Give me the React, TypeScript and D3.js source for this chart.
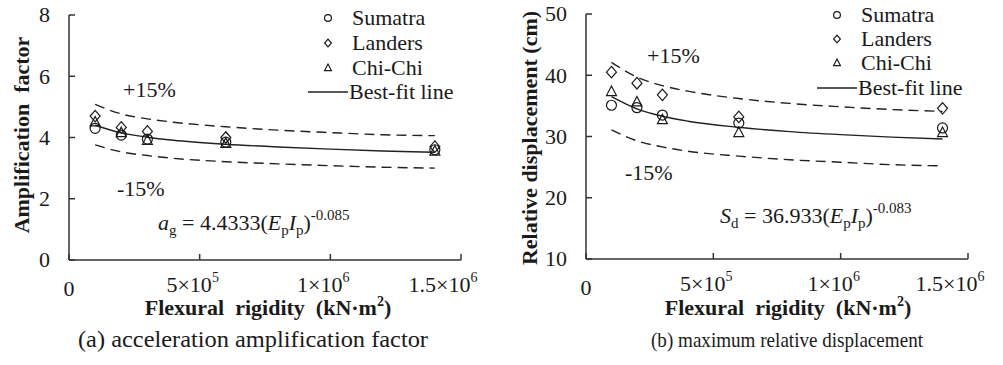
import React from "react";
import * as d3 from "d3";

// ---- data ----
const rigidity = [1e5, 2e5, 3e5, 6e5, 1.4e6];
const ampSumatra = [4.3, 4.08, 3.95, 3.85, 3.6];
const ampLanders = [4.7, 4.33, 4.2, 4.0, 3.7];
const ampChiChi = [4.5, 4.15, 3.9, 3.8, 3.55];

const dispSumatra = [35.1, 34.7, 33.5, 32.2, 31.4];
const dispLanders = [40.5, 38.7, 36.8, 33.2, 34.6];
const dispChiChi = [37.3, 35.6, 32.7, 30.6, 30.6];

const fitX = [1e5, 2e5, 3e5, 4e5, 6e5, 8e5, 1e6, 1.2e6, 1.4e6];
const ampFit = [4.4, 4.15, 4.01, 3.91, 3.78, 3.69, 3.62, 3.56, 3.52];
const ampUpper = [5.08, 4.77, 4.61, 4.5, 4.35, 4.24, 4.16, 4.09, 4.06];
const ampLower = [3.76, 3.53, 3.41, 3.32, 3.21, 3.14, 3.08, 3.03, 3.0];

const dispFit = [36.5, 34.5, 33.3, 32.5, 31.5, 30.8, 30.3, 29.9, 29.6];
const dispUpper = [42.1, 39.7, 38.3, 37.4, 36.2, 35.4, 34.85, 34.4, 34.1];
const dispLower = [31.1, 29.3, 28.3, 27.6, 26.8, 26.2, 25.8, 25.4, 25.2];

const xTicks = [0, 5e5, 1e6, 1.5e6];
const xTickBase = ["0", "5×10", "1×10", "1.5×10"];
const xTickExp = ["", "5", "6", "6"];
const ampTicks = [0, 2, 4, 6, 8];
const dispTicks = [10, 20, 30, 40, 50];
const seriesNames = ["Sumatra", "Landers", "Chi-Chi"];

const FONT = "Liberation Serif, Tinos, Times New Roman, DejaVu Serif, serif";
const INK = "#1a1a1a";

type Shape = "circle" | "diamond" | "triangle";
const shapes: Shape[] = ["circle", "diamond", "triangle"];

function Marker({ shape, x, y, s }: { shape: Shape; x: number; y: number; s: number }) {
  const common = { fill: "none", stroke: INK, strokeWidth: 1.2 };
  if (shape === "circle") return <circle cx={x} cy={y} r={s} {...common} />;
  if (shape === "diamond")
    return <path d={`M${x},${y - s * 1.15}L${x + s},${y}L${x},${y + s * 1.15}L${x - s},${y}Z`} {...common} />;
  return <path d={`M${x},${y - s * 1.15}L${x + s},${y + s * 0.75}L${x - s},${y + s * 0.75}Z`} {...common} />;
}

interface PanelProps {
  xRange: [number, number];
  yRange: [number, number];
  yDomain: [number, number];
  yTicks: number[];
  series: number[][];
  fit: number[];
  upper: number[];
  lower: number[];
  yTitle: string;
  yTitleX: number;
  yTitleY: number;
  caption: string;
  captionSize: number;
  captionLen: number;
  plusPos: [number, number];
  minusPos: [number, number];
  eqPos: [number, number];
  eqSym: string;
  eqSub: string;
  eqCoef: string;
  eqExp: string;
  legendX: number;
  legendYs: number[];
  xLabelCenter: number;
  captionCenter: number;
}

const pre: React.CSSProperties = { whiteSpace: "pre", fontFamily: FONT };

function Panel(p: PanelProps) {
  const x = d3.scaleLinear().domain([0, 1.5e6]).range(p.xRange);
  const y = d3.scaleLinear().domain(p.yDomain).range(p.yRange);
  const line = d3
    .line<number>()
    .x((_, i) => x(fitX[i]))
    .y((d) => y(d))
    .curve(d3.curveMonotoneX);
  const [x0, x1] = p.xRange;
  const [yb, yt] = p.yRange;
  return (
    <g fill={INK} style={{ fontFamily: FONT }}>
      {/* axes */}
      <line x1={x0} x2={x0} y1={yb} y2={yt} stroke="#333" strokeWidth={1.5} />
      <line x1={x0} x2={x1} y1={yb} y2={yb} stroke="#333" strokeWidth={1.5} />
      {p.yTicks.map((t) => (
        <g key={"y" + t}>
          <line x1={x0} x2={x0 + 6} y1={y(t)} y2={y(t)} stroke="#333" strokeWidth={1.5} />
          <text x={x0 - 19} y={y(t)} dy="0.34em" textAnchor="end" fontSize={22} style={pre}>
            {t}
          </text>
        </g>
      ))}
      {xTicks.map((t, i) => (
        <g key={"x" + t}>
          <line x1={x(t)} x2={x(t)} y1={yb} y2={yb - 6} stroke="#333" strokeWidth={1.5} />
          <text
            x={x(t) + (i === 0 ? 0 : i === 3 ? -18 : -7)}
            y={yb + (i === 0 ? 36 : 32)}
            textAnchor="middle"
            fontSize={22}
            style={pre}
          >
            {xTickBase[i]}
            {xTickExp[i] && (
              <tspan fontSize={14} dy={-10}>
                {xTickExp[i]}
              </tspan>
            )}
          </text>
        </g>
      ))}
      {/* band and fit */}
      <path d={line(p.upper) || ""} fill="none" stroke="#222" strokeWidth={1.4} strokeDasharray="10,6" />
      <path d={line(p.lower) || ""} fill="none" stroke="#222" strokeWidth={1.4} strokeDasharray="10,6" />
      <path d={line(p.fit) || ""} fill="none" stroke="#222" strokeWidth={1.4} />
      {/* points */}
      {p.series.map((vals, si) =>
        vals.map((v, i) => <Marker key={si + "-" + i} shape={shapes[si]} x={x(rigidity[i])} y={y(v)} s={5} />)
      )}
      {/* labels */}
      <text x={p.plusPos[0]} y={p.plusPos[1]} fontSize={22} style={pre}>+15%</text>
      <text x={p.minusPos[0]} y={p.minusPos[1]} fontSize={22} style={pre}>-15%</text>
      <text x={p.eqPos[0]} y={p.eqPos[1]} fontSize={22} style={pre}>
        <tspan fontStyle="italic">{p.eqSym}</tspan>
        <tspan fontSize={15} dy={5}>{p.eqSub}</tspan>
        <tspan dy={-5}>{" = " + p.eqCoef + "("}</tspan>
        <tspan fontStyle="italic">E</tspan>
        <tspan fontSize={15} dy={5}>p</tspan>
        <tspan fontStyle="italic" dy={-5}>I</tspan>
        <tspan fontSize={15} dy={5}>p</tspan>
        <tspan dy={-5}>)</tspan>
        <tspan fontSize={15} dy={-10}>{p.eqExp}</tspan>
      </text>
      {/* legend */}
      {seriesNames.map((n, i) => (
        <g key={n}>
          <Marker shape={shapes[i]} x={p.legendX} y={p.legendYs[i]} s={3.4} />
          <text x={p.legendX + 24} y={p.legendYs[i]} dy="0.34em" fontSize={22} style={pre}>
            {n}
          </text>
        </g>
      ))}
      <line x1={p.legendX - 20} x2={p.legendX + 20} y1={p.legendYs[3]} y2={p.legendYs[3]} stroke="#222" strokeWidth={1.4} />
      <text x={p.legendX + 21} y={p.legendYs[3]} dy="0.34em" fontSize={22} style={pre}>
        Best-fit line
      </text>
      {/* titles */}
      <text
        transform={`translate(${p.yTitleX},${p.yTitleY}) rotate(-90)`}
        textAnchor="middle"
        dy="0.34em"
        fontSize={22}
        fontWeight="bold"
        style={pre}
      >
        {p.yTitle}
      </text>
      <text x={p.xLabelCenter} y={315} textAnchor="middle" fontSize={22} fontWeight="bold" style={pre}>
        {"Flexural  rigidity  (kN·m"}
        <tspan fontSize={14} dy={-9}>2</tspan>
        <tspan dy={9}>)</tspan>
      </text>
      <text
        x={p.captionCenter}
        y={347}
        textAnchor="middle"
        fontSize={p.captionSize}
        textLength={p.captionLen}
        lengthAdjust="spacingAndGlyphs"
        style={pre}
      >
        {p.caption}
      </text>
    </g>
  );
}

export default function App() {
  return (
    <svg
      width={1003}
      height={365}
      style={{ position: "absolute", left: 0, top: 0, background: "#fff", fontFamily: FONT }}
    >
      <rect width={1003} height={365} fill="#fff" />
      <Panel
        xRange={[69, 461]}
        yRange={[260, 15]}
        yDomain={[0, 8]}
        yTicks={ampTicks}
        series={[ampSumatra, ampLanders, ampChiChi]}
        fit={ampFit}
        upper={ampUpper}
        lower={ampLower}
        yTitle="Amplification  factor"
        yTitleX={22}
        yTitleY={135}
        caption="(a) acceleration amplification factor"
        captionSize={23.5}
        captionLen={350}
        plusPos={[123, 97]}
        minusPos={[117, 196]}
        eqPos={[158, 230]}
        eqSym="a"
        eqSub="g"
        eqCoef="4.4333"
        eqExp="-0.085"
        legendX={328}
        legendYs={[18, 43, 68, 92]}
        xLabelCenter={268}
        captionCenter={253}
      />
      <Panel
        xRange={[586, 968]}
        yRange={[259, 14]}
        yDomain={[10, 50]}
        yTicks={dispTicks}
        series={[dispSumatra, dispLanders, dispChiChi]}
        fit={dispFit}
        upper={dispUpper}
        lower={dispLower}
        yTitle="Relative displacement (cm)"
        yTitleX={530}
        yTitleY={138}
        caption="(b) maximum relative displacement"
        captionSize={21.5}
        captionLen={272}
        plusPos={[647, 63]}
        minusPos={[625, 180]}
        eqPos={[720, 223]}
        eqSym="S"
        eqSub="d"
        eqCoef="36.933"
        eqExp="-0.083"
        legendX={837}
        legendYs={[15, 39, 63, 88]}
        xLabelCenter={788}
        captionCenter={787}
      />
    </svg>
  );
}
